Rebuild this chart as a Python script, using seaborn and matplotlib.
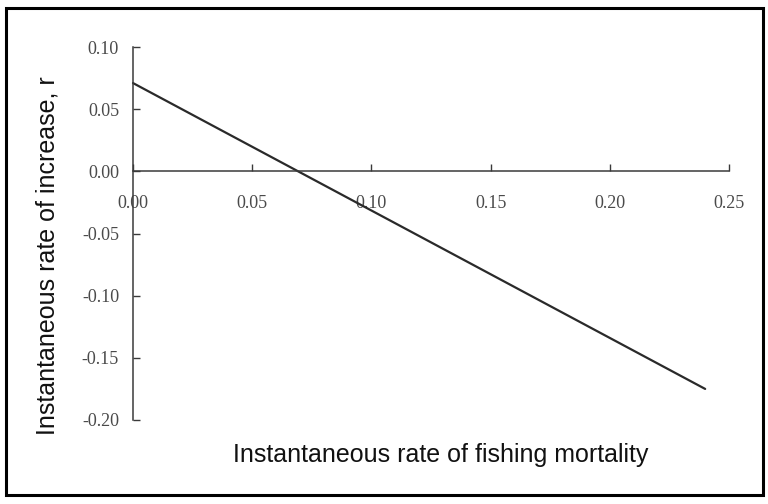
import matplotlib
matplotlib.use("Agg")
import matplotlib.pyplot as plt
import pandas as pd
import seaborn as sns
from matplotlib.patches import Rectangle

# values
fishing_mortality = [0.0, 0.240]
rate_of_increase = [0.071, -0.175]
x_ticks = [0.0, 0.05, 0.10, 0.15, 0.20, 0.25]
y_ticks = [0.10, 0.05, 0.00, -0.05, -0.10, -0.15, -0.20]
x_label = "Instantaneous rate of fishing mortality"
y_label = "Instantaneous rate of increase, r"


def make_plot():
    """straight line plot with axes crossing at zero"""
    sns.set_style("white")
    plt.rcParams["font.family"] = ["Liberation Sans", "DejaVu Sans"]

    df = pd.DataFrame({"F": fishing_mortality, "r": rate_of_increase})

    fig = plt.figure(figsize=(7.68, 5.04), dpi=100)
    ax = fig.add_axes([133 / 768, 84 / 504, 596 / 768, 373 / 504])

    sns.lineplot(data=df, x="F", y="r", ax=ax, color="#2a2a2a",
                 linewidth=1.6, clip_on=False)

    ax.set_xlim(0, 0.25)
    ax.set_ylim(-0.20, 0.10)

    # spines: y axis at x=0, x axis through r=0
    ax.spines["top"].set_visible(False)
    ax.spines["right"].set_visible(False)
    ax.spines["bottom"].set_position(("data", 0))
    for side in ["left", "bottom"]:
        ax.spines[side].set_color("#3a3a3a")
        ax.spines[side].set_linewidth(1.1)

    ax.set_xticks(x_ticks)
    ax.set_xticklabels([f"{v:.2f}" for v in x_ticks])
    ax.set_yticks(y_ticks)
    ax.set_yticklabels([f"{v:.2f}".replace("-0.00", "0.00") for v in y_ticks])

    # seaborn "white" switches tick marks off, turn them back on
    ax.tick_params(axis="x", bottom=True)
    ax.tick_params(axis="y", left=True)
    ax.tick_params(axis="both", direction="in", length=5, width=1,
                   color="#3a3a3a", labelcolor="#4a4a4a", labelsize=13)
    ax.tick_params(axis="x", pad=17)
    ax.tick_params(axis="y", pad=10)
    for lab in ax.get_xticklabels() + ax.get_yticklabels():
        lab.set_family(["Liberation Serif", "DejaVu Serif"])

    ax.set_xlabel(x_label, fontsize=18, color="#111111")
    ax.xaxis.label.set_va("center")
    ax.xaxis.set_label_coords(0.517, -0.094)
    ax.set_ylabel(y_label, fontsize=18, color="#111111")
    ax.yaxis.label.set_va("center")
    ax.yaxis.set_label_coords(-0.144, 0.442)

    # frame around the whole picture
    fig.patches.append(Rectangle((6 / 768, 9 / 504), 757 / 768, 487 / 504,
                                 transform=fig.transFigure, fill=False,
                                 edgecolor="black", linewidth=2.2))

    fig.savefig("out.png", dpi=100)


if __name__ == '__main__':
    make_plot()
